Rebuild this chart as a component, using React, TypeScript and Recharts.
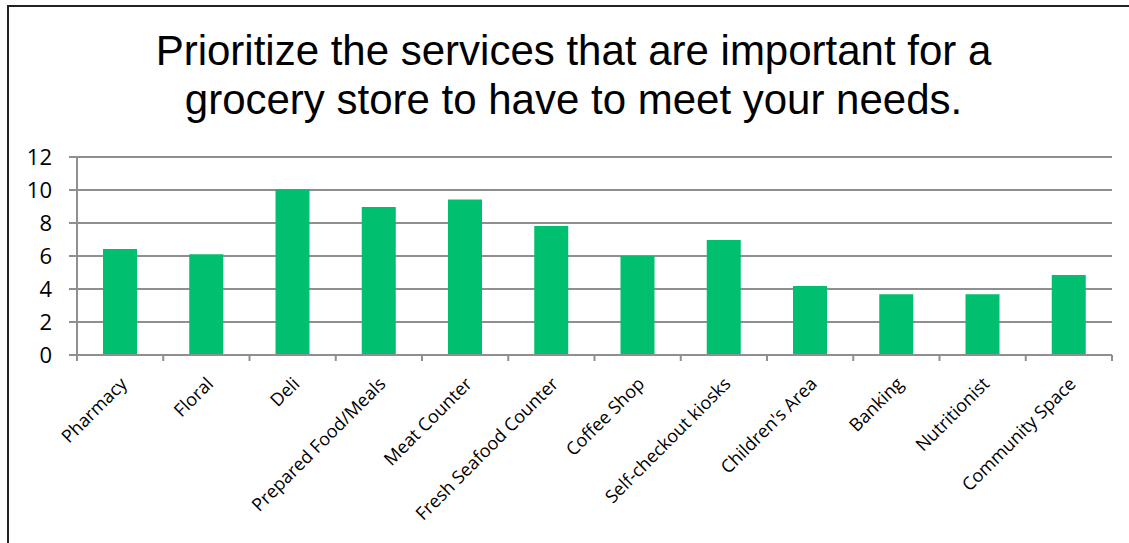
import { Bar, BarChart, CartesianGrid, XAxis, YAxis } from "recharts";

const services = [
  "Pharmacy",
  "Floral",
  "Deli",
  "Prepared Food/Meals",
  "Meat Counter",
  "Fresh Seafood Counter",
  "Coffee Shop",
  "Self-checkout kiosks",
  "Children's Area",
  "Banking",
  "Nutritionist",
  "Community Space",
];

const priorityScores = [6.42, 6.1, 10.05, 8.97, 9.43, 7.82, 6.0, 6.97, 4.18, 3.68, 3.68, 4.85];

const yTicks = [0, 2, 4, 6, 8, 10, 12];

const titleLines = [
  "Prioritize the services that are important for a",
  "grocery store to have to meet your needs.",
];

const data = services.map((name, i) => ({ name, score: priorityScores[i] }));

const GRID = "#8f8f8f";
const BAR = "#00BF6F";

const CHART_W = 1129;
const MARGIN = { top: 157, right: 17, bottom: 0, left: 0 };
const Y_AXIS_W = 77;

type TickProps = {
  x?: number;
  y?: number;
  index?: number;
  payload?: { value: string; offset?: number };
};

// label plus the small tick marks that sit between categories (Excel style)
function ServiceTick({ x = 0, y = 0, index = 0, payload }: TickProps) {
  const plotW = CHART_W - MARGIN.left - MARGIN.right - Y_AXIS_W;
  const half = payload?.offset || plotW / services.length / 2;
  const isLast = index === services.length - 1;
  return (
    <g>
      <line x1={x - half} x2={x - half} y1={y} y2={y + 6} stroke={GRID} strokeWidth={2} />
      {isLast && (
        <line x1={x + half} x2={x + half} y1={y} y2={y + 6} stroke={GRID} strokeWidth={2} />
      )}
      <g transform={`translate(${x + 8},${y + 30})`}>
        <text
          textAnchor="end"
          transform="rotate(-45)"
          fill="#000"
          fontSize={18}
          fontFamily="'Open Sans', sans-serif"
        >
          {payload?.value}
        </text>
      </g>
    </g>
  );
}

export default function App() {
  return (
    <div
      style={{
        position: "absolute",
        left: 0,
        top: 0,
        width: 1129,
        height: 543,
        overflow: "hidden",
        background: "#fff",
      }}
    >
      <div
        style={{
          position: "absolute",
          left: 7,
          top: 5,
          width: 1140,
          height: 560,
          border: "2px solid #222",
        }}
      />
      <div
        style={{
          position: "absolute",
          left: 0,
          top: 26,
          width: 1147,
          textAlign: "center",
          fontFamily: "'Liberation Sans', Arial, sans-serif",
          fontSize: 42,
          lineHeight: "49px",
          color: "#000",
        }}
      >
        {titleLines.map((line) => (
          <div key={line}>{line}</div>
        ))}
      </div>
      <div style={{ position: "absolute", left: 0, top: 0 }}>
        <BarChart width={CHART_W} height={543} data={data} margin={MARGIN}>
          <CartesianGrid vertical={false} stroke={GRID} strokeWidth={2} />
          <XAxis
            dataKey="name"
            height={188}
            interval={0}
            tickLine={false}
            tickSize={0}
            tickMargin={0}
            axisLine={{ stroke: GRID, strokeWidth: 2 }}
            tick={<ServiceTick />}
          />
          <YAxis
            domain={[0, 12]}
            ticks={yTicks}
            width={Y_AXIS_W}
            tickSize={8}
            tickMargin={17}
            axisLine={{ stroke: GRID, strokeWidth: 2 }}
            tickLine={{ stroke: GRID, strokeWidth: 2 }}
            tick={{ fill: "#000", fontSize: 22, fontFamily: "'Open Sans', sans-serif" }}
          />
          <Bar dataKey="score" fill={BAR} barSize={34} isAnimationActive={false} />
        </BarChart>
      </div>
    </div>
  );
}
